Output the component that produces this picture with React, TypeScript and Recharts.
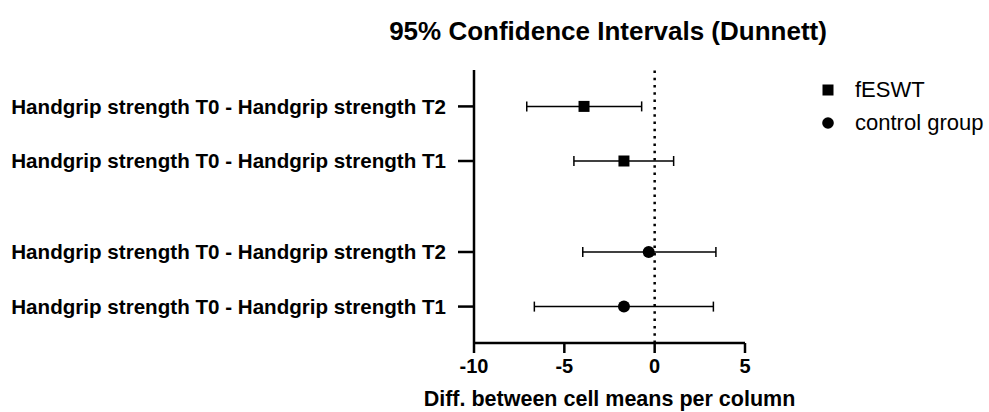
import { ScatterChart, Scatter, XAxis, YAxis, ErrorBar, ReferenceLine } from "recharts";

const FONT = "'Liberation Sans', Arial, Helvetica, sans-serif";

// row slots on the vertical axis (top to bottom) and their labels
const rowSlots = [13, 10, 5, 2];
const rowLabels = [
  "Handgrip strength T0 - Handgrip strength T2",
  "Handgrip strength T0 - Handgrip strength T1",
  "Handgrip strength T0 - Handgrip strength T2",
  "Handgrip strength T0 - Handgrip strength T1",
];

// mean difference and 95% CI per row
const means = [-3.91, -1.7, -0.33, -1.7];
const lowers = [-7.08, -4.47, -3.98, -6.66];
const uppers = [-0.72, 1.05, 3.39, 3.25];
const rowGroup = ["fESWT", "fESWT", "control group", "control group"];

const groups = ["fESWT", "control group"];
const xTicks = [-10, -5, 0, 5];

const rows = rowSlots.map((slot, i) => ({
  slot,
  label: rowLabels[i],
  mean: means[i],
  err: [means[i] - lowers[i], uppers[i] - means[i]],
  group: rowGroup[i],
}));

const fesData = rows.filter((r) => r.group === "fESWT");
const ctrlData = rows.filter((r) => r.group === "control group");

const SquareShape = (props: any) => {
  const { cx, cy } = props;
  return <rect x={cx - 5.5} y={cy - 5.5} width={11} height={11} fill="#000" />;
};

const CircleShape = (props: any) => {
  const { cx, cy } = props;
  return <circle cx={cx} cy={cy} r={6} fill="#000" />;
};

const YTick = ({ x, y, payload }: any) => {
  const idx = rowSlots.indexOf(payload.value);
  return (
    <text x={x} y={y} dy="0.36em" textAnchor="end" fontFamily={FONT} fontWeight="bold" fontSize={20.6} fill="#000">
      {idx >= 0 ? rowLabels[idx] : ""}
    </text>
  );
};

export default function App() {
  return (
    <div style={{ position: "absolute", left: 0, top: 0, width: 989, height: 412, background: "#fff" }}>
      <div
        style={{
          position: "absolute",
          left: 608,
          top: 18,
          transform: "translateX(-50%)",
          whiteSpace: "nowrap",
          fontFamily: FONT,
          fontWeight: "bold",
          fontSize: 26,
          lineHeight: "26px",
        }}
      >
        95% Confidence Intervals (Dunnett)
      </div>

      <div style={{ position: "absolute", left: 822, top: 74, fontFamily: FONT, fontSize: 22, lineHeight: "22px" }}>
        {groups.map((g, i) => (
          <div key={g} style={{ display: "flex", alignItems: "center", height: 32.5 }}>
            <svg width={12} height={12} style={{ marginRight: 21, flex: "none" }}>
              {i === 0 ? <rect x={0.5} y={0.5} width={11} height={11} fill="#000" /> : <circle cx={6} cy={6} r={5.8} fill="#000" />}
            </svg>
            <span style={{ whiteSpace: "nowrap" }}>{g}</span>
          </div>
        ))}
      </div>

      <ScatterChart width={989} height={412} margin={{ top: 70, right: 244, bottom: 0, left: 0 }}>
        <XAxis
          type="number"
          dataKey="mean"
          domain={[-10, 5]}
          ticks={xTicks}
          height={69}
          stroke="#000"
          axisLine={{ stroke: "#000", strokeWidth: 2.5 }}
          tickLine={{ stroke: "#000", strokeWidth: 2.5 }}
          tickSize={10}
          tickMargin={6}
          tick={{ fontFamily: FONT, fontWeight: "bold", fontSize: 20, fill: "#000" }}
          label={{
            value: "Diff. between cell means per column",
            position: "insideBottom",
            offset: 6,
            style: { fontFamily: FONT, fontWeight: "bold", fontSize: 21.5, fill: "#000" },
          }}
        />
        <YAxis
          type="number"
          dataKey="slot"
          domain={[0, 15]}
          ticks={rowSlots}
          width={474}
          axisLine={{ stroke: "#000", strokeWidth: 2.5 }}
          tickLine={{ stroke: "#000", strokeWidth: 2.5 }}
          tickSize={16}
          tickMargin={12}
          tick={<YTick />}
        />
        <ReferenceLine x={0} stroke="#000" strokeWidth={2.5} strokeDasharray="2.5 4.8" />
        <Scatter name="fESWT" data={fesData} shape={<SquareShape />} isAnimationActive={false}>
          <ErrorBar dataKey="err" direction="x" width={5} stroke="#000" strokeWidth={1.5} />
        </Scatter>
        <Scatter name="control group" data={ctrlData} shape={<CircleShape />} isAnimationActive={false}>
          <ErrorBar dataKey="err" direction="x" width={5} stroke="#000" strokeWidth={1.5} />
        </Scatter>
      </ScatterChart>
    </div>
  );
}
